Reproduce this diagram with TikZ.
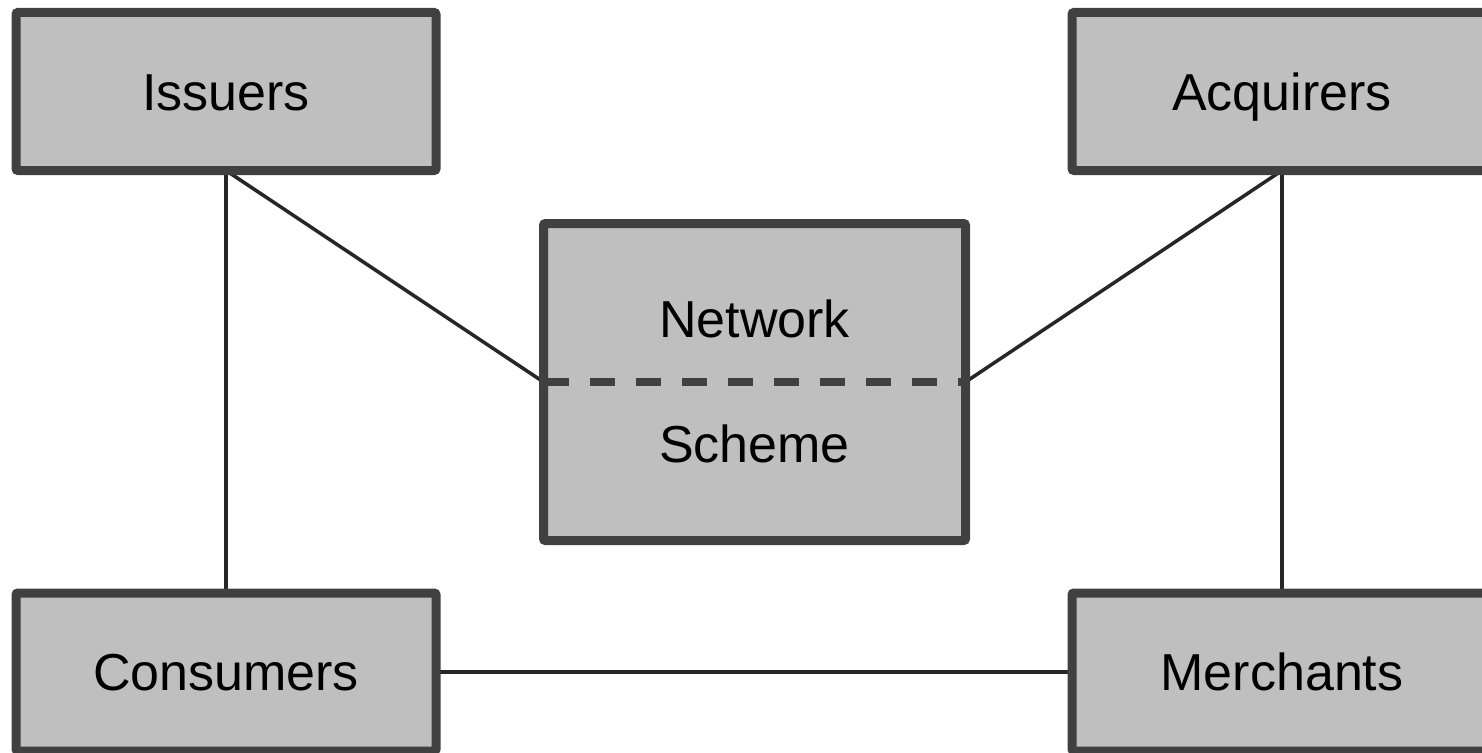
\documentclass[tikz,border=0pt]{standalone}
\usepackage{fontspec}
\setmainfont{Liberation Sans}
\usetikzlibrary{backgrounds}
\definecolor{boxgray}{HTML}{BFBFBF}
\definecolor{edgegray}{HTML}{404040}
\definecolor{linkgray}{HTML}{262626}

\begin{document}
\begin{tikzpicture}[x=1pt,y=-1pt,
    party/.style={draw=edgegray,fill=boxgray,line width=9pt,rounded corners=2pt,
      outer sep=0pt,minimum width=420pt,minimum height=158pt,
      font=\fontsize{52}{62}\selectfont,text height=37.5pt,text depth=0pt},
    caption/.style={font=\fontsize{52}{62}\selectfont,anchor=base,inner sep=0pt},
    link/.style={draw=linkgray,line width=3.5pt}]
  \useasboundingbox (0,0) rectangle (1482,752);
  % the four parties
  \node[party] (iss) at (226,91.5) {Issuers};
  \node[party] (acq) at (1282,91.5) {Acquirers};
  \node[party] (con) at (226,672) {Consumers};
  \node[party] (mer) at (1282,672) {Merchants};
  % the scheme in the middle
  \node[party,minimum width=422pt,minimum height=317pt] (net) at (754.5,382) {};
  \draw[edgegray,line width=8pt,dash pattern=on 25pt off 21pt] (net.west) -- (net.east);
  \node[caption] (netup) at (754.5,337) {Network};
  \node[caption] (netdown) at (754.5,462) {Scheme};
  % connectors
  \begin{pgfonlayer}{background}
    \draw[link] (iss.south) -- (con.north);
    \draw[link] (acq.south) -- (mer.north);
    \draw[link] (iss.south) -- (net.west);
    \draw[link] (acq.south) -- (net.east);
    \draw[link] (con.east) -- (mer.west);
  \end{pgfonlayer}
\end{tikzpicture}
\end{document}
